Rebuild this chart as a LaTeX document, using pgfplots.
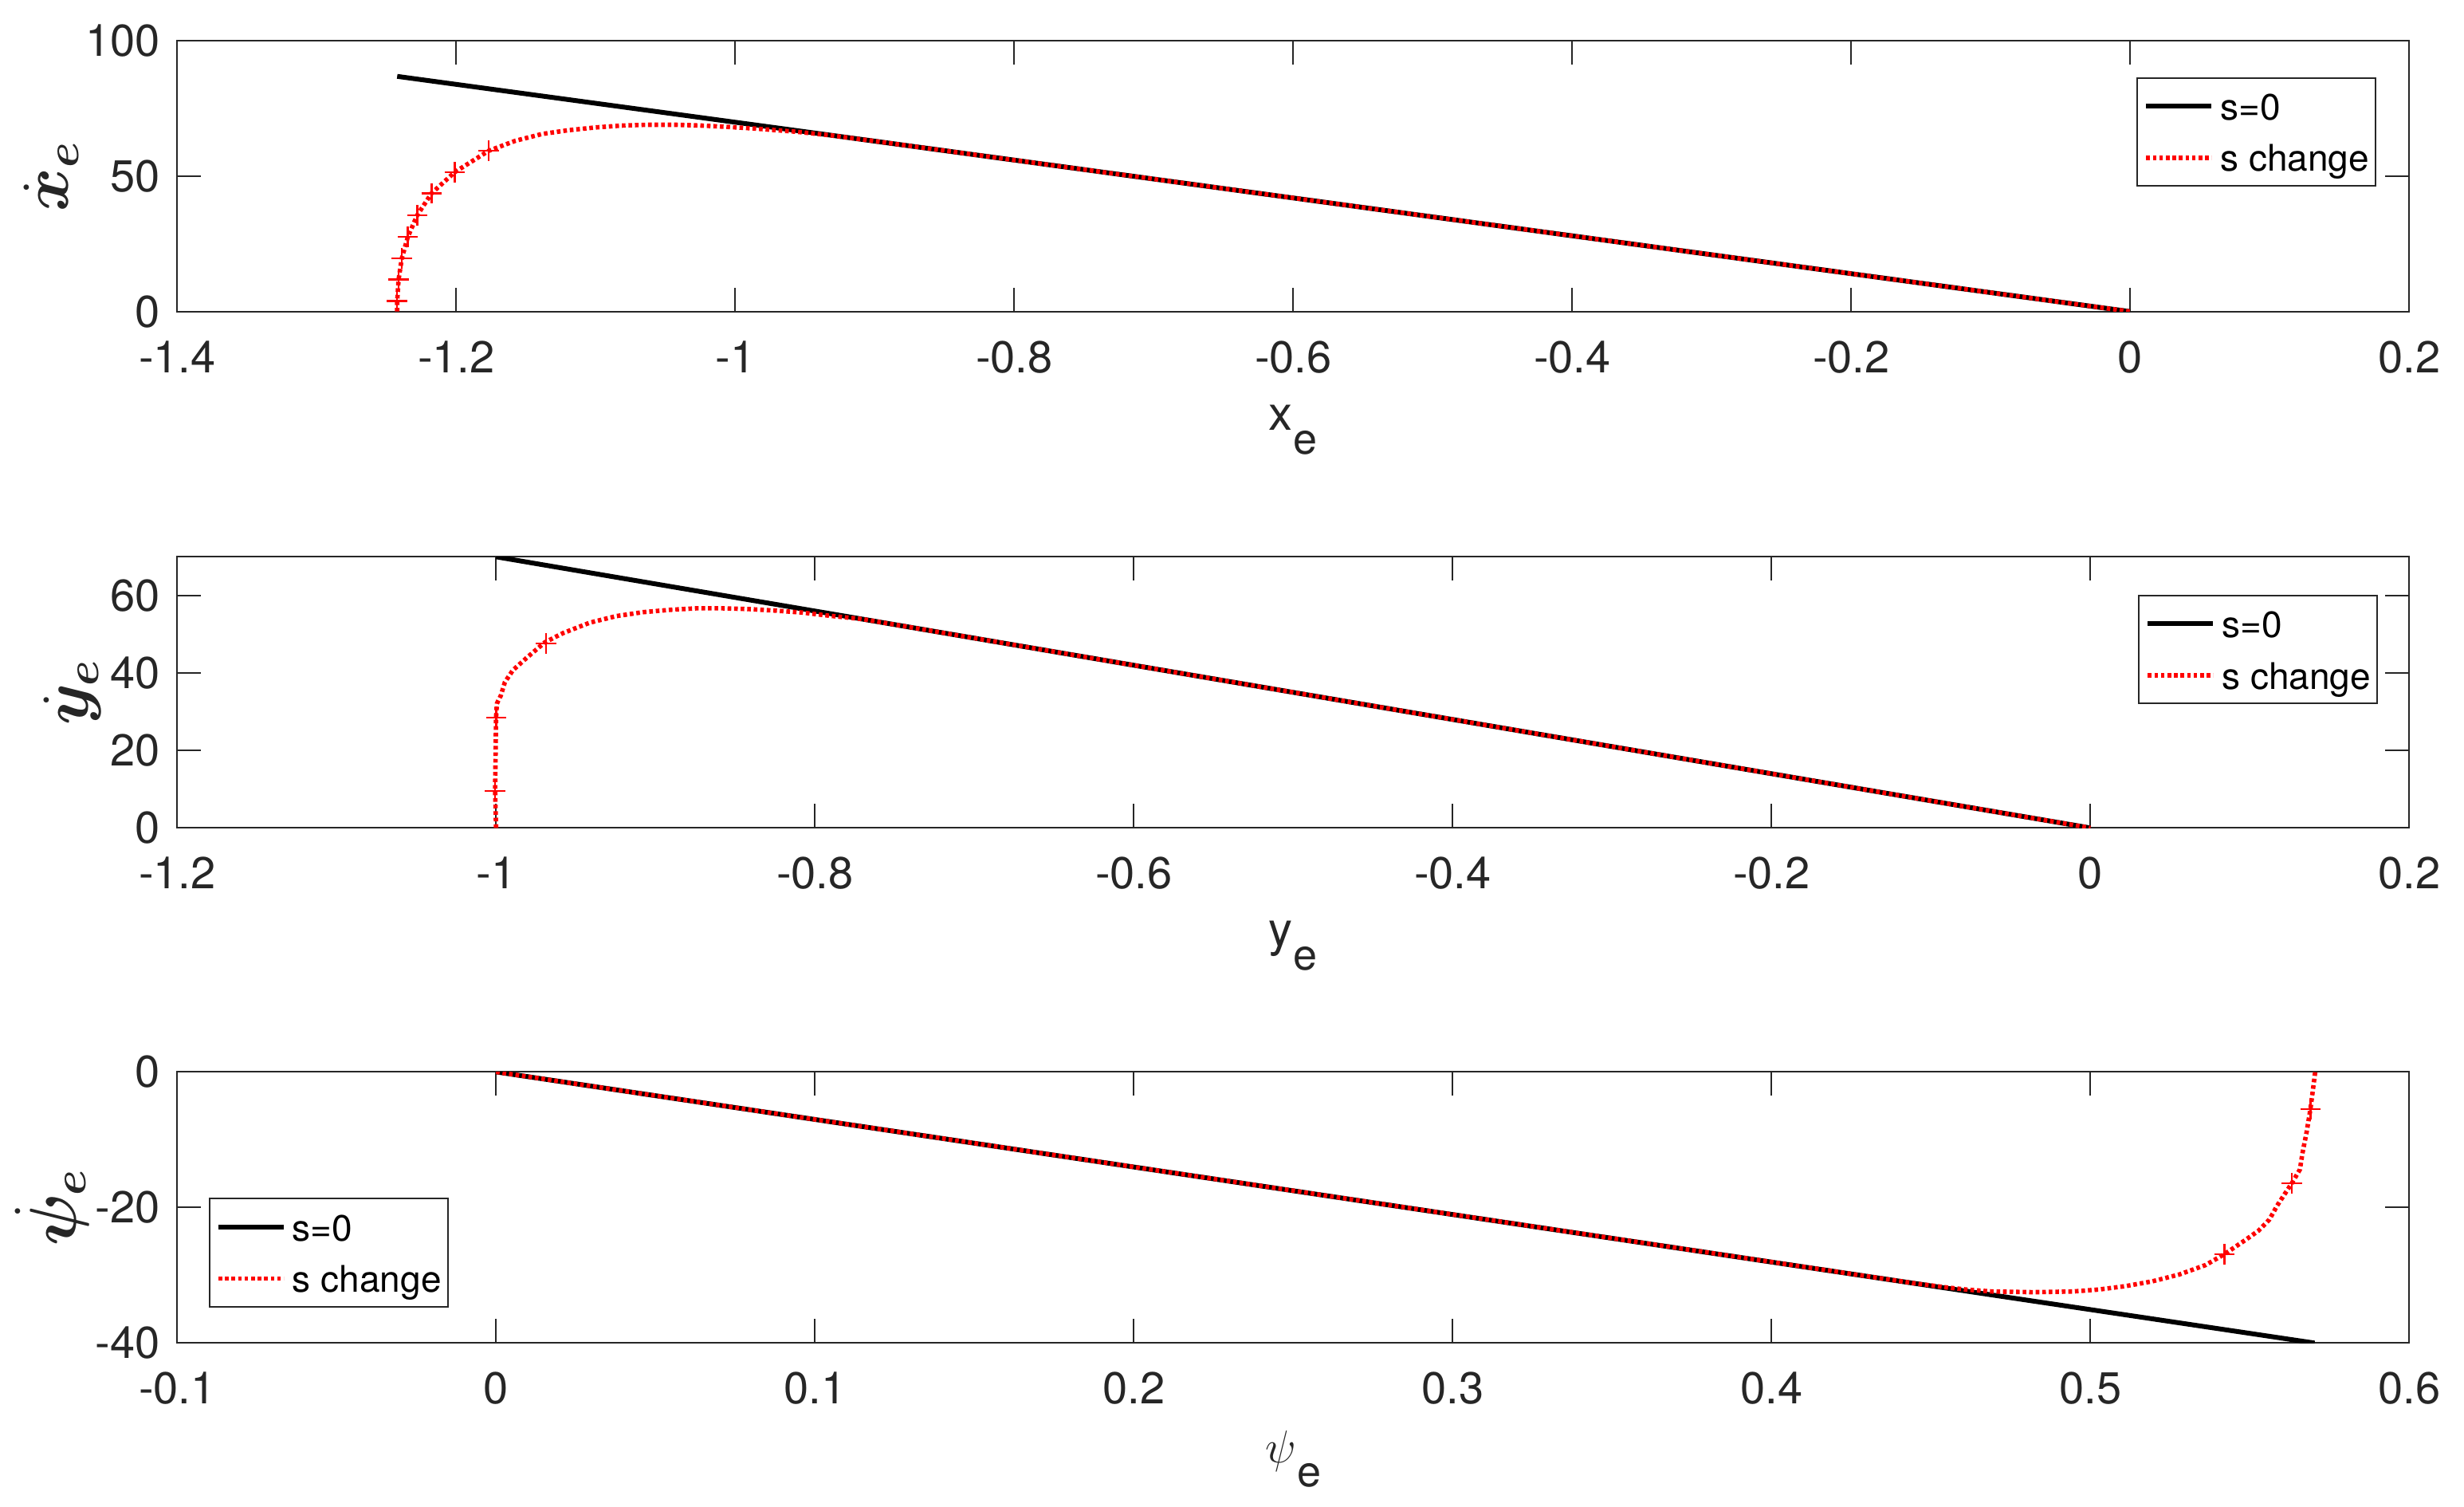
\documentclass[border=0pt]{standalone}
\usepackage{fontspec}
\setmainfont{TeX Gyre Heros}
\usepackage{bm}
\usepackage{pgfplots}
\pgfplotsset{compat=1.18}
\definecolor{axc}{HTML}{262626}
\pgfplotsset{
 mstyle/.style={
  scale only axis, width=700pt, height=85pt,
  axis line style={axc, line width=0.5pt},
  every tick/.style={axc, line width=0.5pt},
  tick align=inside, major tick length=7.5pt,
  xtick pos=both, ytick pos=both,
  ticklabel style={font=\fontsize{14}{16}\selectfont, text=axc},
  xticklabel style={inner sep=0pt, anchor=north, yshift=-9pt},
  yticklabel style={inner sep=0pt, anchor=east, xshift=-5.2pt},
  xlabel style={anchor=base, inner sep=0pt, text=axc, font=\fontsize{15}{18}\selectfont},
  ylabel style={anchor=south, inner sep=0pt, text=axc, font=\fontsize{21}{24}\selectfont},
  legend style={draw=axc, line width=0.5pt, font=\fontsize{11.5}{13}\selectfont,
    inner xsep=2pt, inner ysep=2.2pt, row sep=2.7pt, column sep=2pt,
    nodes={inner sep=0pt, text height=11pt, text depth=2.4pt}},
  legend cell align=left,
  legend image code/.code={\draw[##1] (0pt,0pt) -- (20.5pt,0pt);},
 },
 blk/.style={black, line width=1.5pt, no marks},
 rd/.style={red, line width=1.4pt, dash pattern=on 1.15pt off 0.9pt, no marks},
 rdm/.style={only marks, red, mark=+, mark size=3.2pt, mark options={solid, line width=0.6pt}},
}
\newcommand{\sub}[1]{\kern0.3pt\raisebox{-7.5pt}{\fontsize{13.5}{15}\selectfont #1}}
\begin{document}
\begin{tikzpicture}
\useasboundingbox (0,0) rectangle (772.75pt,-472.25pt);
% ---------- panel 1
\begin{axis}[mstyle, at={(55.575pt,-97.675pt)}, anchor=south west,
  xmin=-1.4, xmax=0.2, ymin=0, ymax=100,
  xtick={-1.4,-1.2,-1,-0.8,-0.6,-0.4,-0.2,0,0.2},
  xticklabels={-1.4,-1.2,-1,-0.8,-0.6,-0.4,-0.2,0,0.2},
  ytick={0,50,100}, yticklabels={0,50,100},
  xlabel={x\sub{e}}, xlabel style={at={(axis description cs:0.5,-0.4366)}},
  ylabel={$\bm{\dot{x}_e}$}, ylabel style={at={(axis description cs:-0.0440,0.5)}},
  legend style={at={(axis description cs:0.98525,0.8646)}, anchor=north east}]
\addplot[blk] coordinates {(-1.2423,86.75) (0,0)};
\addlegendentry{s=0}
\addplot[rd] coordinates {
(-1.2423,0) (-1.2423,3.9) (-1.2413,11.8) (-1.239,19.6) (-1.2347,27.5) (-1.228,35.5)
(-1.2177,43.6) (-1.2011,51.4) (-1.1767,59.3) (-1.1575,63.0) (-1.1384,65.5) (-1.1194,66.9)
(-1.1003,67.9) (-1.0813,68.6) (-1.0622,68.9) (-1.0432,68.9) (-1.0242,68.6) (-1.0051,68.1)
(-0.986,67.5) (-0.9557,66.3) (-0.93,64.9) (-0.9,62.85) (0,0)};
\addlegendentry{s change}
\addplot[rdm, forget plot] coordinates {
(-1.2423,3.9) (-1.2413,11.8) (-1.239,19.6) (-1.2347,27.5) (-1.228,35.5)
(-1.2177,43.6) (-1.2011,51.4) (-1.1767,59.3)};
\end{axis}
% ---------- panel 2
\begin{axis}[mstyle, at={(55.575pt,-259.575pt)}, anchor=south west,
  xmin=-1.2, xmax=0.2, ymin=0, ymax=70,
  xtick={-1.2,-1,-0.8,-0.6,-0.4,-0.2,0,0.2},
  xticklabels={-1.2,-1,-0.8,-0.6,-0.4,-0.2,0,0.2},
  ytick={0,20,40,60}, yticklabels={0,20,40,60},
  xlabel={y\sub{e}}, xlabel style={at={(axis description cs:0.5,-0.4366)}},
  ylabel={$\bm{\dot{y}_e}$}, ylabel style={at={(axis description cs:-0.0337,0.5)}},
  legend style={at={(axis description cs:0.9860,0.8601)}, anchor=north east}]
\addplot[blk] coordinates {(-1,70) (0,0)};
\addlegendentry{s=0}
\addplot[rd] coordinates {
(-1.0,0) (-1.0006,9.6) (-1.0,28.5) (-0.9995,32.1) (-0.997,34.2) (-0.9945,37.6)
(-0.9895,40.7) (-0.9803,44.1) (-0.9695,47.9) (-0.958,50.3) (-0.9412,53.0) (-0.9245,54.7)
(-0.908,55.7) (-0.8912,56.3) (-0.8745,56.7) (-0.858,56.7) (-0.8412,56.5) (-0.8245,56.1)
(-0.8078,55.6) (-0.7912,54.8) (-0.77,53.9) (-0.75,52.5) (0,0)};
\addlegendentry{s change}
\addplot[rdm, forget plot] coordinates {(-1.0006,9.6) (-1.0,28.5) (-0.9688,47.6)};
\end{axis}
% ---------- panel 3
\begin{axis}[mstyle, at={(55.575pt,-421.075pt)}, anchor=south west,
  xmin=-0.1, xmax=0.6, ymin=-40, ymax=0,
  xtick={-0.1,0,0.1,0.2,0.3,0.4,0.5,0.6},
  xticklabels={-0.1,0,0.1,0.2,0.3,0.4,0.5,0.6},
  ytick={-40,-20,0}, yticklabels={-40,-20,0},
  xlabel={$\psi$\sub{e}}, xlabel style={at={(axis description cs:0.5,-0.443)}},
  ylabel={$\bm{\dot{\psi}_e}$}, ylabel style={at={(axis description cs:-0.0394,0.5)}},
  legend style={at={(axis description cs:0.01418,0.1303)}, anchor=south west}]
\addplot[blk] coordinates {(0,0) (0.5703,-40)};
\addlegendentry{s=0}
\addplot[rd] coordinates {
(0,0) (0.445,-31.2) (0.455,-31.8) (0.4619,-32.15) (0.4694,-32.4) (0.4819,-32.5)
(0.4944,-32.4) (0.5028,-32.1) (0.5111,-31.6) (0.5194,-30.9) (0.5278,-29.9) (0.5361,-28.5)
(0.542,-26.9) (0.5486,-24.8) (0.5528,-23.4) (0.5561,-21.8) (0.5586,-19.7) (0.5611,-17.9)
(0.5632,-16.4) (0.5657,-14.4) (0.5665,-12.0) (0.5678,-8.9) (0.569,-5.5) (0.5705,0)};
\addlegendentry{s change}
\addplot[rdm, forget plot] coordinates {(0.569,-5.5) (0.5632,-16.4) (0.542,-26.9)};
\end{axis}
\end{tikzpicture}
\end{document}
